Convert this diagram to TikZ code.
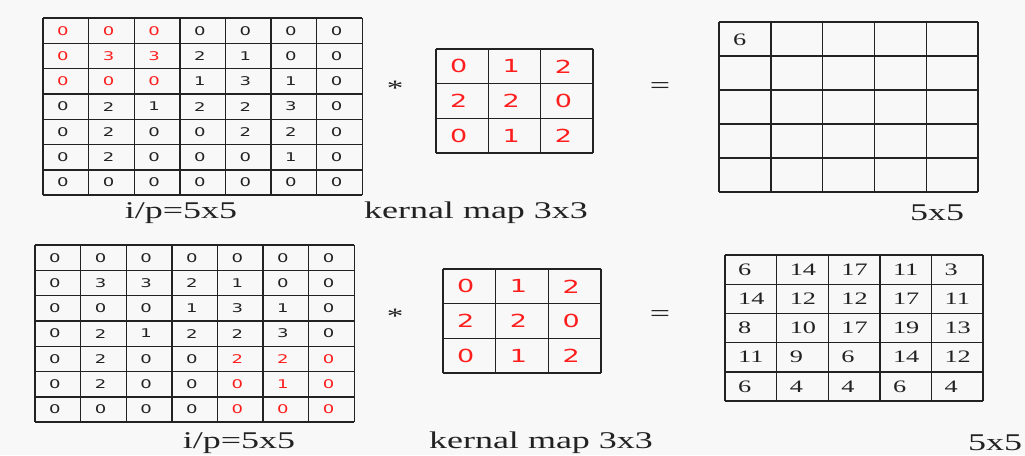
\documentclass[tikz,border=0pt]{standalone}
\usepackage{fontspec}
\usepackage{graphicx}
\setmainfont{Liberation Serif}
\newfontfamily\digitfont{DejaVu Sans}
\newcommand{\widen}[1]{\scalebox{1.5}[1]{#1}}
\definecolor{paper}{HTML}{F8F8F8}
\definecolor{ink}{HTML}{222222}
\definecolor{hl}{HTML}{FF1E1E}
\tikzset{
  gridline/.style={draw=ink, line width=1.4pt},
  incell/.style={anchor=west, inner sep=0pt, font=\digitfont\fontsize{12}{14}\selectfont},
  kcell/.style={anchor=west, inner sep=0pt, text=hl, font=\digitfont\fontsize{18}{20}\selectfont},
  outcell/.style={anchor=west, inner sep=0pt, text=ink, font=\fontsize{17.5}{19}\selectfont},
  caption/.style={inner sep=0pt, text=ink, font=\fontsize{24}{26}\selectfont},
  opsign/.style={inner sep=0pt, text=ink},
}
% #1 x0, #2 y0, #3 columns, #4 rows, #5 column width, #6 row height
\newcommand{\cellgrid}[6]{%
  \foreach \i in {0,...,#3}{\draw[gridline] ({#1+\i*#5},#2) -- ({#1+\i*#5},{#2+#4*#6});}
  \foreach \j in {0,...,#4}{\draw[gridline] (#1,{#2+\j*#6}) -- ({#1+#3*#5},{#2+\j*#6});}
}
\begin{document}
\begin{tikzpicture}[x=1pt,y=-1pt]
\fill[paper] (0,0) rectangle (1025,455);
\useasboundingbox (0,0) rectangle (1025,455);

% ---------- top row ----------
% padded input with the window at the top-left corner
\cellgrid{43}{18}{7}{7}{45.6}{25.3}
\foreach \row [count=\r] in {{0,0,0,0,0,0,0},{0,3,3,2,1,0,0},{0,0,0,1,3,1,0},{0,2,1,2,2,3,0},{0,2,0,0,2,2,0},{0,2,0,0,0,1,0},{0,0,0,0,0,0,0}}{
  \foreach \v [count=\c] in \row {
    \def\tc{ink}
    \ifnum\r<4\relax\ifnum\c<4\relax\def\tc{hl}\fi\fi
    \node[incell, text=\tc] (ta-\r-\c) at ({43+(\c-1)*45.6+14},{18+(\r-0.5)*25.3}) {\widen{\v}};
  }
}
\node[caption] (tacap) at (181,213) {\widen{i/p=5x5}};

\node[opsign, font=\fontsize{22}{24}\selectfont] (tstar) at (395,88) {\widen{*}};

% kernel
\cellgrid{436}{49}{3}{3}{52.3}{34.7}
\foreach \row [count=\r] in {{0,1,2},{2,2,0},{0,1,2}}{
  \foreach \v [count=\c] in \row {
    \node[kcell] (tk-\r-\c) at ({436+(\c-1)*52.3+14},{49+(\r-0.5)*34.7}) {\widen{\v}};
  }
}
\node[caption] (tkcap) at (476,213) {\widen{kernal map 3x3}};

\node[opsign, font=\fontsize{24}{26}\selectfont] (teq) at (660,88) {\widen{=}};

% output with its first value
\cellgrid{719}{22}{5}{5}{51.8}{34}
\node[outcell] (to-1-1) at (733,40) {\widen{6}};
\node[caption] (tocap) at (937,213) {\widen{5x5}};

% ---------- bottom row ----------
% padded input with the window at the bottom-right corner
\cellgrid{35}{245}{7}{7}{45.6}{25.3}
\foreach \row [count=\r] in {{0,0,0,0,0,0,0},{0,3,3,2,1,0,0},{0,0,0,1,3,1,0},{0,2,1,2,2,3,0},{0,2,0,0,2,2,0},{0,2,0,0,0,1,0},{0,0,0,0,0,0,0}}{
  \foreach \v [count=\c] in \row {
    \def\tc{ink}
    \ifnum\r>4\relax\ifnum\c>4\relax\def\tc{hl}\fi\fi
    \node[incell, text=\tc] (ba-\r-\c) at ({35+(\c-1)*45.6+14},{245+(\r-0.5)*25.3}) {\widen{\v}};
  }
}
\node[caption] (bacap) at (239,443) {\widen{i/p=5x5}};

\node[opsign, font=\fontsize{22}{24}\selectfont] (bstar) at (395,316) {\widen{*}};

% kernel
\cellgrid{443}{269}{3}{3}{52.7}{34.7}
\foreach \row [count=\r] in {{0,1,2},{2,2,0},{0,1,2}}{
  \foreach \v [count=\c] in \row {
    \node[kcell] (bk-\r-\c) at ({443+(\c-1)*52.7+14},{269+(\r-0.5)*34.7}) {\widen{\v}};
  }
}
\node[caption] (bkcap) at (541,443) {\widen{kernal map 3x3}};

\node[opsign, font=\fontsize{24}{26}\selectfont] (beq) at (660,316) {\widen{=}};

% full output
\cellgrid{725}{255}{5}{5}{51.6}{29.2}
\foreach \row [count=\r] in {{6,14,17,11,3},{14,12,12,17,11},{8,10,17,19,13},{11,9,6,14,12},{6,4,4,6,4}}{
  \foreach \v [count=\c] in \row {
    \node[outcell] (bo-\r-\c) at ({725+(\c-1)*51.6+13},{255+(\r-0.5)*29.2}) {\widen{\v}};
  }
}
\node[caption] (bocap) at (995,443) {\widen{5x5}};
\end{tikzpicture}
\end{document}
